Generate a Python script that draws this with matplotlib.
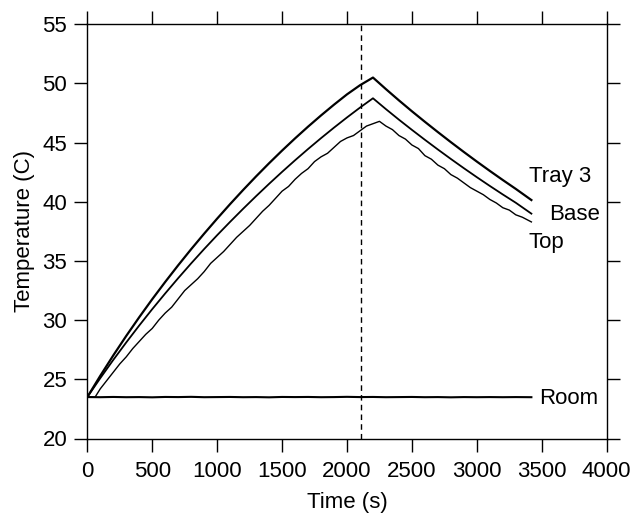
import matplotlib
matplotlib.use("Agg")
import matplotlib.pyplot as plt

plt.rcParams['font.family'] = ['Liberation Sans', 'DejaVu Sans']

# Heating / cooling curves (time in s, temperature in C)
tray3_t = [0, 100, 200, 300, 400, 500, 600, 700, 800, 900, 1000, 1100, 1200,
           1300, 1400, 1500, 1600, 1700, 1800, 1900, 2000, 2100, 2200,
           2300, 2400, 2500, 2600, 2700, 2800, 2900, 3000, 3100, 3200, 3300, 3420]
tray3_T = [23.5, 25.30, 27.02, 28.67, 30.25, 31.77, 33.23, 34.64, 36.00, 37.31, 38.58,
           39.81, 41.00, 42.15, 43.26, 44.33, 45.36, 46.35, 47.30, 48.21, 49.08, 49.85, 50.5,
           49.52, 48.57, 47.65, 46.76, 45.89, 45.04, 44.21, 43.40, 42.61, 41.84, 41.09, 40.15]

base_t = tray3_t
base_T = [23.5, 25.10, 26.64, 28.12, 29.55, 30.93, 32.26, 33.55, 34.80, 36.01, 37.18,
          38.31, 39.41, 40.48, 41.52, 42.53, 43.51, 44.46, 45.38, 46.27, 47.13, 47.96, 48.75,
          47.83, 46.94, 46.08, 45.24, 44.42, 43.62, 42.84, 42.08, 41.34, 40.62, 39.92, 39.0]

top_t = [0, 60, 100, 150, 200, 250, 300, 350, 400, 450, 500, 550, 600, 650, 700,
         750, 800, 850, 900, 950, 1000, 1050, 1100, 1150, 1200, 1250, 1300, 1350,
         1400, 1450, 1500, 1550, 1600, 1650, 1700, 1750, 1800, 1850, 1900, 1950,
         2000, 2050, 2100, 2150, 2200, 2250, 2300, 2350, 2400, 2450, 2500, 2550,
         2600, 2650, 2700, 2750, 2800, 2850, 2900, 2950, 3000, 3050, 3100, 3150,
         3200, 3250, 3300, 3350, 3420]
top_T = [23.5, 23.5, 24.2, 24.9, 25.6, 26.3, 26.9, 27.6, 28.2, 28.8, 29.3, 30.0, 30.6,
         31.1, 31.8, 32.5, 33.0, 33.5, 34.1, 34.8, 35.3, 35.8, 36.4, 37.0, 37.5,
         38.0, 38.6, 39.2, 39.7, 40.3, 40.9, 41.3, 41.9, 42.4, 42.8, 43.4, 43.8,
         44.1, 44.6, 45.1, 45.4, 45.6, 46.0, 46.4, 46.6, 46.8, 46.4, 46.1, 45.6,
         45.3, 44.8, 44.5, 43.9, 43.6, 43.1, 42.8, 42.3, 42.0, 41.6, 41.2, 40.9,
         40.6, 40.2, 39.9, 39.5, 39.3, 38.9, 38.7, 38.3]

room_t = [0, 100, 200, 300, 400, 500, 600, 700, 800, 900, 1000, 1100, 1200, 1300,
          1400, 1500, 1600, 1700, 1800, 1900, 2000, 2100, 2200, 2300, 2400, 2500,
          2600, 2700, 2800, 2900, 3000, 3100, 3200, 3300, 3420]
room_T = [23.5, 23.49, 23.51, 23.49, 23.5, 23.48, 23.51, 23.5, 23.52, 23.49, 23.5,
          23.51, 23.49, 23.5, 23.48, 23.51, 23.5, 23.51, 23.49, 23.5, 23.52, 23.5,
          23.51, 23.49, 23.5, 23.51, 23.49, 23.5, 23.48, 23.5, 23.49, 23.5, 23.49,
          23.5, 23.49]

switch_time = 2110

labels = ['Tray 3', 'Base', 'Top', 'Room']
label_x = [3400, 3560, 3400, 3480]
label_y = [42.1, 38.9, 36.6, 23.4]

xticks = [0, 500, 1000, 1500, 2000, 2500, 3000, 3500, 4000]
yticks = [20, 25, 30, 35, 40, 45, 50, 55]

fig = plt.figure(figsize=(6.37, 5.17), dpi=100)
ax = fig.add_axes([87.3 / 637, 1 - 438.5 / 517, (606.7 - 87.3) / 637, (438.5 - 24.3) / 517])

ax.plot(tray3_t, tray3_T, color='black', lw=1.6)
ax.plot(base_t, base_T, color='black', lw=1.3)
ax.plot(top_t, top_T, color='black', lw=1.0)
ax.plot(room_t, room_T, color='black', lw=1.5)
ax.axvline(switch_time, color='black', lw=1.0, ls=(0, (4, 3)))

for lab, lx, ly in zip(labels, label_x, label_y):
    ax.text(lx, ly, lab, fontsize=16, va='center', ha='left')

ax.set_xlim(0, 4000)
ax.set_ylim(20, 55)
ax.set_xticks(xticks)
ax.set_yticks(yticks)
ax.tick_params(direction='out', length=9.5, width=1, top=True, right=True,
               labeltop=False, labelright=False, labelsize=16, pad=5)
ax.tick_params(axis='x', pad=7)
for sp in ax.spines.values():
    sp.set_linewidth(1)

ax.set_xlabel('Time (s)', fontsize=16, labelpad=7)
ax.set_ylabel('Temperature (C)', fontsize=16, labelpad=5)

fig.savefig('out.png', dpi=100)
